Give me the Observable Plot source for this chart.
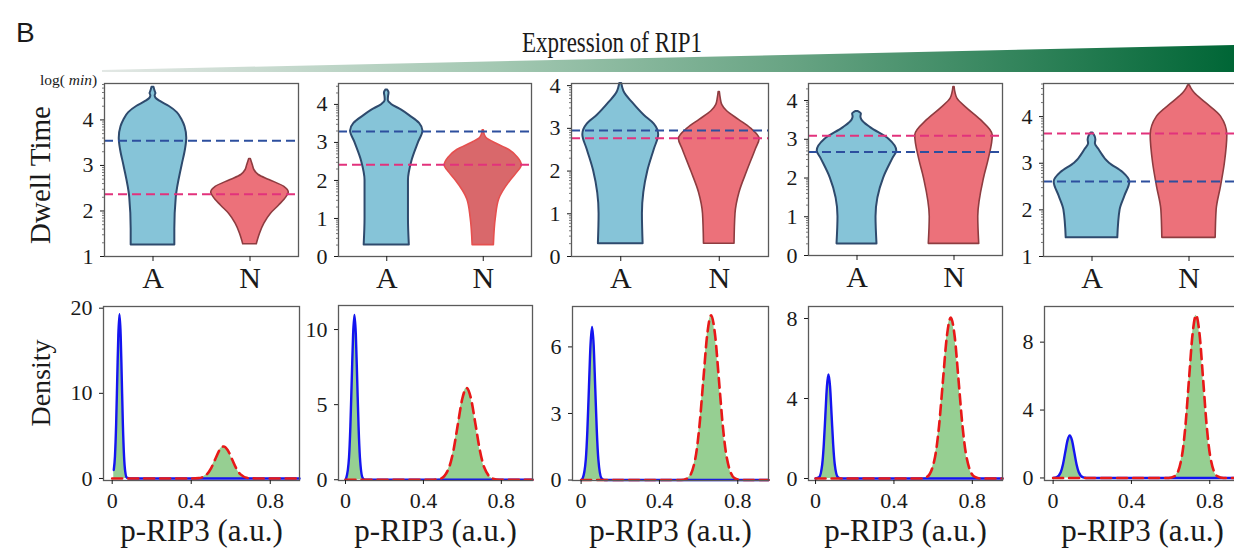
<!DOCTYPE html>
<html><head><meta charset="utf-8">
<script src="https://cdn.jsdelivr.net/npm/d3@7"></script>
<script src="https://cdn.jsdelivr.net/npm/@observablehq/plot@0.6"></script>
<style>
body{margin:0;background:#fff;}
#root{position:relative;width:1234px;height:552px;overflow:hidden;background:#fff;}
#root svg text{font-family:"Liberation Serif","Times New Roman",serif;}
#root svg text.sans{font-family:"Liberation Sans",Arial,sans-serif;}
</style></head><body><div id="root"></div>
<script>
// ---------------- DATA ----------------
const groups = ["A", "N"];
const panelTitle = "Expression of RIP1";
const topYLabel = "Dwell Time";
const bottomYLabel = "Density";
const bottomXLabel = "p-RIP3 (a.u.)";

// dashed reference lines (per panel)
const meanA = [3.54, 3.29, 2.95, 2.67, 2.61];
const meanN = [2.37, 2.41, 2.77, 3.09, 3.64];

// violin profiles: [dwell time, half width]
const violinA1 = [[1.25,0.225],[1.6,0.225],[2.3,0.24],[3.0,0.30],[3.35,0.335],[3.6,0.348],[3.85,0.33],[4.0,0.30],[4.16,0.25],[4.3,0.165],[4.4,0.08],[4.48,0.03],[4.53,0.022],[4.58,0.03],[4.63,0.022],[4.72,0.01]];
const violinN1 = [[1.27,0.07],[1.5,0.103],[1.72,0.148],[1.94,0.216],[2.12,0.30],[2.31,0.378],[2.4,0.4],[2.53,0.354],[2.68,0.2],[2.79,0.09],[2.9,0.045],[3.0,0.03],[3.14,0.008]];
const violinA2 = [[0.3,0.234],[1.0,0.225],[2.0,0.225],[2.5,0.26],[3.0,0.33],[3.3,0.375],[3.5,0.34],[3.7,0.24],[3.85,0.155],[4.0,0.05],[4.1,0.016],[4.2,0.018],[4.3,0.024],[4.38,0.008]];
const violinN2 = [[0.3,0.11],[1.0,0.13],[1.5,0.165],[2.0,0.285],[2.2,0.35],[2.4,0.40],[2.6,0.36],[2.8,0.27],[3.0,0.11],[3.1,0.04],[3.2,0.015],[3.32,0.006]];
const violinA3 = [[0.3,0.227],[1.0,0.22],[2.0,0.275],[2.5,0.34],[2.85,0.385],[3.1,0.34],[3.3,0.24],[3.6,0.12],[3.85,0.035],[3.95,0.02],[4.05,0.01]];
const violinN3 = [[0.3,0.155],[1.0,0.165],[1.5,0.206],[2.0,0.285],[2.5,0.37],[2.75,0.41],[3.0,0.32],[3.2,0.2],[3.4,0.08],[3.55,0.03],[3.7,0.015],[3.85,0.006]];
const violinA4 = [[0.3,0.206],[1.0,0.196],[2.0,0.275],[2.5,0.37],[2.7,0.41],[3.0,0.33],[3.3,0.14],[3.5,0.05],[3.58,0.04],[3.65,0.045],[3.72,0.01]];
const violinN4 = [[0.3,0.26],[1.0,0.25],[2.0,0.31],[2.5,0.36],[3.1,0.40],[3.5,0.275],[3.8,0.135],[4.05,0.035],[4.2,0.015],[4.35,0.006]];
const violinA5 = [[1.4,0.266],[2.0,0.29],[2.3,0.34],[2.6,0.39],[2.8,0.32],[3.0,0.18],[3.3,0.07],[3.42,0.035],[3.5,0.04],[3.58,0.03],[3.65,0.008]];
const violinN5 = [[1.4,0.275],[2.0,0.285],[2.5,0.33],[3.0,0.37],[3.6,0.395],[4.0,0.33],[4.3,0.17],[4.5,0.06],[4.6,0.025],[4.67,0.008]];

// density curves: [p-RIP3, density]
const blue1 = [[0.008,1.0],[0.014,2.6],[0.020,6.4],[0.026,12.2],[0.031,16.8],[0.037,19.3],[0.043,16.8],[0.048,12.2],[0.054,6.4],[0.060,2.6],[0.066,0.8],[0.074,0.1],[0.09,0],[0.948,0]];
const red1  = [[0,0],[0.40,0],[0.438,0.04],[0.48,0.51],[0.501,1.22],[0.522,2.28],[0.543,3.32],[0.564,3.76],[0.585,3.32],[0.606,2.28],[0.627,1.22],[0.648,0.51],[0.69,0.04],[0.73,0],[0.948,0]];
const blue2 = [[0,0],[0.004,0.12],[0.018,1.48],[0.025,3.56],[0.032,6.65],[0.039,9.68],[0.046,10.97],[0.053,9.68],[0.060,6.65],[0.067,3.56],[0.074,1.48],[0.088,0.12],[0.1,0],[0.96,0]];
const red2  = [[0,0],[0.45,0],[0.487,0.07],[0.532,0.83],[0.5545,1.98],[0.577,3.71],[0.5995,5.39],[0.622,6.11],[0.6445,5.39],[0.667,3.71],[0.6895,1.98],[0.712,0.83],[0.757,0.07],[0.79,0],[0.96,0]];
const blue3 = [[0,0],[0.008,0.08],[0.024,0.93],[0.032,2.24],[0.040,4.18],[0.048,6.09],[0.056,6.9],[0.064,6.09],[0.072,4.18],[0.080,2.24],[0.088,0.93],[0.104,0.08],[0.12,0],[0.957,0]];
const red3  = [[0,0],[0.51,0],[0.544,0.08],[0.584,1.0],[0.604,2.41],[0.624,4.5],[0.644,6.55],[0.664,7.42],[0.684,6.55],[0.704,4.5],[0.724,2.41],[0.744,1.0],[0.784,0.08],[0.82,0],[0.957,0]];
const blue4 = [[0,0],[0.018,0.06],[0.034,0.7],[0.042,1.69],[0.05,3.15],[0.058,4.59],[0.066,5.2],[0.074,4.59],[0.082,3.15],[0.09,1.69],[0.098,0.7],[0.114,0.06],[0.13,0],[0.954,0]];
const red4  = [[0,0],[0.54,0],[0.57,0.09],[0.61,1.09],[0.63,2.61],[0.65,4.88],[0.67,7.1],[0.69,8.05],[0.71,7.1],[0.73,4.88],[0.75,2.61],[0.77,1.09],[0.81,0.09],[0.84,0],[0.954,0]];
const blue5 = [[0,0],[0.016,0.03],[0.039,0.34],[0.0505,0.81],[0.062,1.52],[0.0735,2.21],[0.085,2.5],[0.0965,2.21],[0.108,1.52],[0.1195,0.81],[0.131,0.34],[0.154,0.03],[0.17,0],[0.957,0]];
const red5  = [[0,0],[0.59,0],[0.622,0.11],[0.658,1.3],[0.676,3.11],[0.694,5.82],[0.712,8.46],[0.73,9.59],[0.748,8.46],[0.766,5.82],[0.784,3.11],[0.802,1.3],[0.838,0.11],[0.87,0],[0.957,0]];

// tick labels
const topTicks = [[1,2,3,4],[0,1,2,3,4],[0,1,2,3,4],[0,1,2,3,4],[1,2,3,4]];
const densityTicks = [[0,10,20],[0,5,10],[0,3,6],[0,4,8],[0,4,8]];
const xTicks = [0, 0.4, 0.8];

// ---------------- LAYOUT / STYLE ----------------
const violinA = [violinA1, violinA2, violinA3, violinA4, violinA5];
const violinN = [violinN1, violinN2, violinN3, violinN4, violinN5];
const blues = [blue1, blue2, blue3, blue4, blue5];
const reds = [red1, red2, red3, red4, red5];

const topFrames = [[104,83,194,173],[338,83,193,173],[571,83,197,173],[808,83,194,172],[1043,83,194,173]];
const topYDomain = [[1,4.8],[0,4.55],[0,4.05],[0,4.44],[1,4.71]];
const botFrames = [[103,306,196,174],[338,305,194,175],[572,306,196,174],[808,306,194,174],[1044,306,196,174]];
const botXDomain = [[-0.044,0.948],[-0.036,0.96],[-0.044,0.957],[-0.036,0.954],[-0.044,0.957]];
const botYDomain = [[-0.24,20.2],[-0.05,11.6],[-0.02,7.82],[-0.1,8.6],[-0.15,10.1]];

const serif = '"Liberation Serif","Times New Roman",serif';
const colA = {fill: "#86c4d8", stroke: "#2e4a6d"};
const colN = [{fill: "#ec717a", stroke: "#8e3c40"},{fill: "#d9686b", stroke: "#e5504f"},{fill: "#ec717a", stroke: "#8e3c40"},{fill: "#ec717a", stroke: "#8e3c40"},{fill: "#ec717a", stroke: "#8e3c40"}];
const dashBlue = "#2d4f9e", dashPink = "#e2327c";
const green = "#90cc8c", curveBlue = "#1414f0", curveRed = "#e81818";

const root = document.getElementById("root");

// decorations overlay (title, wedge, labels)
const NS = "http://www.w3.org/2000/svg";
const ov = document.createElementNS(NS, "svg");
ov.setAttribute("width", 1234); ov.setAttribute("height", 552);
ov.style.position = "absolute"; ov.style.left = "0"; ov.style.top = "0";
ov.innerHTML = `
<defs><linearGradient id="wg" x1="102" x2="1234" y1="0" y2="0" gradientUnits="userSpaceOnUse">
<stop offset="0" stop-color="#e3e8e5"/><stop offset="0.35" stop-color="#a3c8b2"/>
<stop offset="0.6" stop-color="#6aa585"/><stop offset="1" stop-color="#006636"/></linearGradient></defs>
<polygon points="102,70 1234,45 1234,72 102,72" fill="url(#wg)"/>
<text class="sans" x="16" y="42" font-size="28" fill="#1a1a1a">B</text>
<text x="522" y="52" font-size="30" fill="#1a1a1a" textLength="180" lengthAdjust="spacingAndGlyphs">${panelTitle}</text>
<text x="40" y="85" font-size="15.5" fill="#1a1a1a">log(<tspan font-style="italic"> min</tspan>)</text>
<text transform="translate(50,175) rotate(-90)" text-anchor="middle" font-size="29" fill="#1a1a1a">${topYLabel}</text>
<text transform="translate(50,383) rotate(-90)" text-anchor="middle" font-size="28" fill="#1a1a1a">${bottomYLabel}</text>
`;
root.appendChild(ov);

function place(svg, left, top) {
  svg.style.position = "absolute";
  svg.style.left = left + "px";
  svg.style.top = top + "px";
  root.appendChild(svg);
}

const baseStyle = {background: "transparent", fontFamily: serif, color: "#1a1a1a", overflow: "visible"};

function topPanel(i) {
  const [fx, fy, fw, fh] = topFrames[i];
  const ml = 45, mr = 5, mt = 10, mb = 45;
  const [y0, y1] = topYDomain[i];
  const minor = [];
  for (let k = Math.floor(y0); k < Math.ceil(y1); k++)
    for (let m = 2; m <= 9; m++) { const v = k + Math.log10(m); if (v > y0 && v < y1) minor.push(v); }
  const svg = Plot.plot({
    width: fw + ml + mr, height: fh + mt + mb,
    marginLeft: ml, marginRight: mr, marginTop: mt, marginBottom: mb,
    x: {domain: [-0.5, 1.5], axis: null},
    y: {domain: [y0, y1], axis: null},
    style: baseStyle,
    marks: [
      Plot.areaX(violinA[i], {y: d => d[0], x1: d => 0 - d[1], x2: d => 0 + d[1], curve: "monotone-y",
        fill: colA.fill, stroke: colA.stroke, strokeWidth: 2, strokeLinejoin: "round"}),
      Plot.areaX(violinN[i], {y: d => d[0], x1: d => 1 - d[1], x2: d => 1 + d[1], curve: "monotone-y",
        fill: colN[i].fill, stroke: colN[i].stroke, strokeWidth: 1.6, strokeLinejoin: "round"}),
      Plot.ruleY([meanA[i]], {stroke: dashBlue, strokeWidth: 2, strokeDasharray: "9,5"}),
      Plot.ruleY([meanN[i]], {stroke: dashPink, strokeWidth: 2, strokeDasharray: "9,5"}),
      Plot.frame({stroke: "#5a5a5a", strokeWidth: 1.3}),
      Plot.axisY({ticks: minor, tickSize: 2, tickFormat: () => "", label: null, stroke: "#777"}),
      Plot.axisY({ticks: topTicks[i], tickSize: 4, tickPadding: 7, fontSize: 22, fontFamily: serif, label: null, tickFormat: d => String(d)}),
      Plot.axisX({ticks: [0, 1], tickFormat: d => groups[d], tickSize: 5, tickPadding: 5, fontSize: 30, fontFamily: serif, label: null})
    ]
  });
  place(svg, fx - ml, fy - mt);
}

function bottomPanel(i) {
  const [fx, fy, fw, fh] = botFrames[i];
  const ml = 45, mr = 5, mt = 10, mb = 72;
  const svg = Plot.plot({
    width: fw + ml + mr, height: fh + mt + mb,
    marginLeft: ml, marginRight: mr, marginTop: mt, marginBottom: mb,
    x: {domain: botXDomain[i], axis: null},
    y: {domain: botYDomain[i], axis: null},
    style: baseStyle,
    marks: [
      Plot.areaY(blues[i], {x: d => d[0], y: d => d[1], curve: "monotone-x", fill: green, fillOpacity: 0.95}),
      Plot.areaY(reds[i], {x: d => d[0], y: d => d[1], curve: "monotone-x", fill: green, fillOpacity: 0.95}),
      Plot.line(blues[i], {x: d => d[0], y: d => d[1], curve: "monotone-x", stroke: curveBlue, strokeWidth: 2.4}),
      Plot.line(reds[i], {x: d => d[0], y: d => d[1], curve: "monotone-x", stroke: curveRed, strokeWidth: 2.6, strokeDasharray: "10,6"}),
      Plot.frame({stroke: "#5a5a5a", strokeWidth: 1.3}),
      Plot.axisY({ticks: densityTicks[i], tickSize: 4, tickPadding: 7, fontSize: 22, fontFamily: serif, label: null, tickFormat: d => String(d)}),
      Plot.axisX({ticks: xTicks, tickSize: 4, tickPadding: 8, fontSize: 22, fontFamily: serif, label: null, tickFormat: d => String(d)}),
      Plot.text([bottomXLabel], {text: d => d, frameAnchor: "bottom", dy: 60, fontSize: 31, fontFamily: serif, fill: "#1a1a1a"})
    ]
  });
  place(svg, fx - ml, fy - mt);
}

for (let i = 0; i < 5; i++) { topPanel(i); bottomPanel(i); }
</script></body></html>
